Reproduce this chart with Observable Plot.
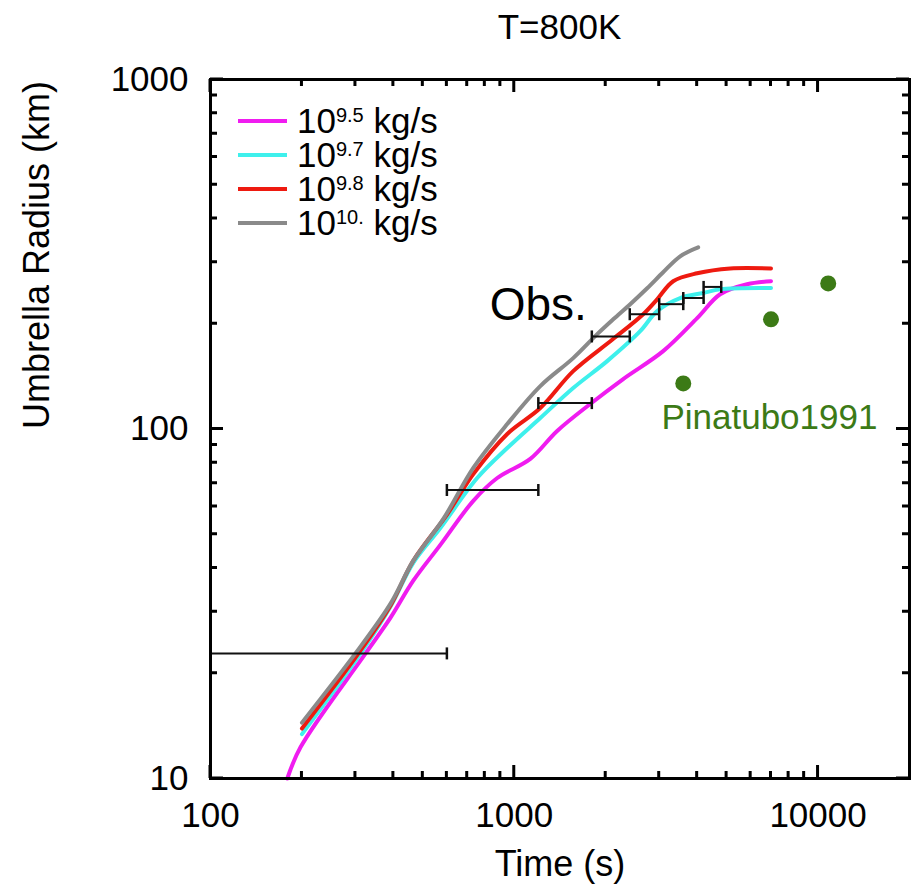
<!DOCTYPE html>
<html>
<head>
<meta charset="utf-8">
<script src="https://cdn.jsdelivr.net/npm/d3@7"></script>
<script src="https://cdn.jsdelivr.net/npm/@observablehq/plot@0.6"></script>
<style>
  body { margin: 0; background: #fff; font-family: "Liberation Sans", Arial, Helvetica, sans-serif; }
  #wrap { position: relative; width: 912px; height: 889px; overflow: hidden; }
  #title { height: 54px; width: 699px; margin-left: 210px; text-align: center; font-size: 35px; line-height: 54px; color: #000; }
  #legend { position: absolute; left: 238px; top: 104px; }
  .row { display: flex; align-items: center; height: 34px; white-space: nowrap; }
  .swatch { width: 49px; height: 4px; margin-right: 10px; }
  .base { font-size: 35px; line-height: 30px; display: inline-block; }
  .sup { font-size: 20px; line-height: 20px; display: inline-block; align-self: flex-start; margin-top: 1px; }
  svg { display: block; }
</style>
</head>
<body>
<div id="wrap">
  <div id="title">T=800K</div>
  <div id="legend"></div>
</div>
<script>
// ---- data ----
const seriesNames = ["9.5", "9.7", "9.8", "10."];
const seriesColors = ["#f01cf0", "#3ef0ec", "#ee1a10", "#8a8a8a"];

const magentaT = [179, 198, 324, 391, 465, 571, 733, 879, 1129, 1384, 1778, 2283, 3091, 4000, 4760, 5837, 7000];
const magentaR = [10, 12.3, 22.8, 28.8, 36.8, 46.6, 62.3, 72.4, 82.1, 98.7, 117.9, 139, 167, 207.6, 243, 259.5, 264.8];

const cyanT = [200, 312, 391, 465, 571, 755, 948, 1218, 1563, 2022, 2597, 2953, 3516, 4188, 4760, 7000];
const cyanR = [13.4, 22.8, 31, 41.4, 52.1, 72.4, 88.2, 107.5, 131, 156.4, 190.5, 217.4, 237, 245, 251, 253];

const redT = [200, 307, 391, 465, 603, 733, 948, 1218, 1563, 2100, 2656, 2953, 3334, 4000, 5139, 7000];
const redR = [13.9, 22.8, 31.2, 42, 57.2, 74.3, 96.8, 114.8, 146.4, 180, 213, 235, 264.7, 279, 288, 288];

const grayT = [200, 300, 391, 465, 584, 733, 948, 1218, 1563, 1875, 2117, 2408, 2738, 3091, 3516, 4030];
const grayR = [14.45, 22.8, 31.6, 42, 55.3, 77.4, 103.3, 132.7, 159.5, 186.8, 206, 227.6, 252.8, 280.9, 312, 331];

// observations: time windows (s) and radius (km)
const obsStart = [0, 600, 1200, 1800, 2400, 3000, 3600, 4200];
const obsEnd = [600, 1200, 1800, 2400, 3000, 3600, 4200, 4800];
const obsR = [22.8, 66.9, 118.6, 184, 213, 227.6, 237, 255];

// Pinatubo 1991
const pinT = [3600, 7000, 10800];
const pinR = [135, 206, 261];

const xMajor = [100, 1000, 10000];
const xMinor = [200, 300, 400, 500, 600, 700, 800, 900, 2000, 3000, 4000, 5000, 6000, 7000, 8000, 9000];
const yMajor = [10, 100, 1000];
const yMinor = [20, 30, 40, 50, 60, 70, 80, 90, 200, 300, 400, 500, 600, 700, 800, 900];
const xDomain = [100, 20000];
const yDomain = [10, 1000];

// ---- build ----
const tables = [[magentaT, magentaR], [cyanT, cyanR], [redT, redR], [grayT, grayR]];
const curves = tables.map(([T, R], i) => T.map((t, j) => ({t, r: R[j], s: seriesNames[i]})));
const obs = obsStart.map((t0, i) => ({t0, t1: obsEnd[i], r: obsR[i]}));
const pin = pinT.map((t, i) => ({t, r: pinR[i]}));

const green = "#3c7a16";
const cap = { draw(ctx, size) { const h = Math.sqrt(size / Math.PI); ctx.moveTo(0, -h); ctx.lineTo(0, h); } };

// custom mark: inward tick marks on all four frame sides, placed through the plot's own scales
function frameTicks(index, scales, values, dim) {
  const svg = d3.create("svg:g").attr("stroke", "#000").attr("stroke-width", 3).attr("fill", "none");
  const L = dim.marginLeft, R = dim.width - dim.marginRight, T = dim.marginTop, B = dim.height - dim.marginBottom;
  const path = d3.path();
  const addX = (v, len) => { const px = scales.x(v); path.moveTo(px, B); path.lineTo(px, B - len); path.moveTo(px, T); path.lineTo(px, T + len); };
  const addY = (v, len) => { const py = scales.y(v); path.moveTo(L, py); path.lineTo(L + len, py); path.moveTo(R, py); path.lineTo(R - len, py); };
  xMajor.forEach(v => addX(v, 13));
  xMinor.forEach(v => addX(v, 7));
  yMajor.forEach(v => addY(v, 13));
  yMinor.forEach(v => addY(v, 7));
  svg.append("path").attr("d", path.toString());
  return svg.node();
}

const chart = Plot.plot({
  width: 912,
  height: 835,
  marginLeft: 210,
  marginRight: 3,
  marginTop: 25,
  marginBottom: 111,
  x: {type: "log", domain: xDomain},
  y: {type: "log", domain: yDomain},
  style: {fontFamily: "'Liberation Sans', Arial, Helvetica, sans-serif", fontSize: "35px", color: "#000", background: "#fff"},
  marks: [
    // tick labels
    Plot.axisX({anchor: "bottom", ticks: xMajor, tickSize: 0, tickPadding: 24, tickFormat: d => String(d), label: null, fontSize: 35}),
    Plot.axisY({anchor: "left", ticks: yMajor, tickSize: 0, tickPadding: 22, tickFormat: d => String(d), label: null, fontSize: 35}),
    // axis titles
    Plot.text(["Time (s)"], {frameAnchor: "bottom", dy: 97, fontSize: 36, fill: "#000"}),
    Plot.text(["Umbrella Radius (km)"], {frameAnchor: "left", dx: -173, rotate: -90, fontSize: 36, fill: "#000"}),
    // model curves
    ...curves.map((c, i) => Plot.line(c, {x: "t", y: "r", stroke: seriesColors[i], strokeWidth: 4, curve: "catmull-rom"})),
    // observations
    Plot.ruleY(obs, {y: "r", x1: d => Math.max(d.t0, xDomain[0]), x2: "t1", stroke: "#111", strokeWidth: 2}),
    Plot.dot(obs.filter(d => d.t0 >= xDomain[0]), {x: "t0", y: "r", symbol: cap, r: 6, fill: "none", stroke: "#111", strokeWidth: 2.5}),
    Plot.dot(obs, {x: "t1", y: "r", symbol: cap, r: 6, fill: "none", stroke: "#111", strokeWidth: 2.5}),
    Plot.text(["Obs."], {x: 830, y: 226, textAnchor: "start", fontSize: 46, fill: "#000"}),
    // Pinatubo
    Plot.dot(pin, {x: "t", y: "r", r: 8, fill: green, stroke: "none"}),
    Plot.text(["Pinatubo1991"], {x: 3050, y: 108, textAnchor: "start", fontSize: 35, fill: green}),
    Plot.frame({stroke: "#000", strokeWidth: 3}),
    frameTicks
  ]
});
document.getElementById("wrap").appendChild(chart);

// legend
const legend = document.getElementById("legend");
seriesNames.forEach((n, i) => {
  const row = document.createElement("div");
  row.className = "row";
  row.innerHTML = `<span class="swatch" style="background:${seriesColors[i]}"></span><span class="base">10</span><span class="sup">${n}</span><span class="base">&nbsp;kg/s</span>`;
  legend.appendChild(row);
});
</script>
</body>
</html>
